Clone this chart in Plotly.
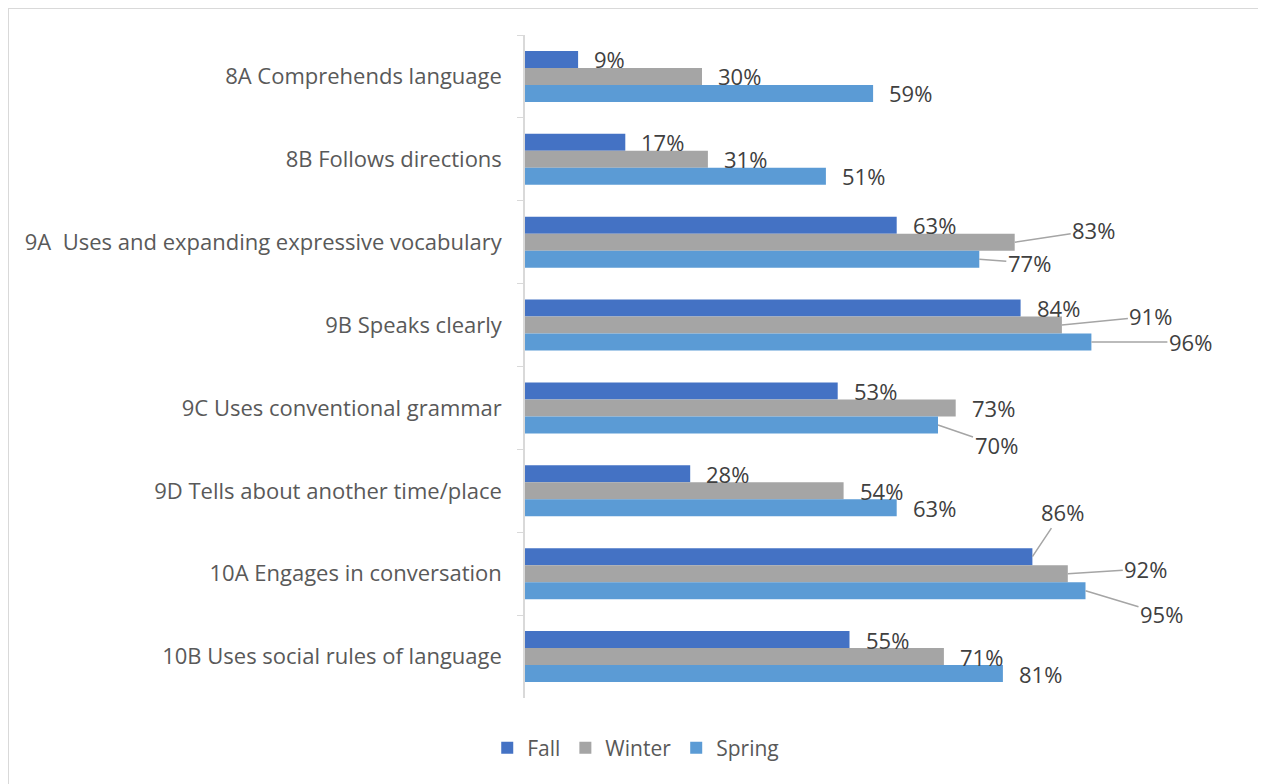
import plotly.graph_objects as go

# Dados
categorias = [
    "8A Comprehends language",
    "8B Follows directions",
    "9A\u00a0 Uses and expanding expressive vocabulary",
    "9B Speaks clearly",
    "9C Uses conventional grammar",
    "9D Tells about another time/place",
    "10A Engages in conversation",
    "10B Uses social rules of language",
]
fall = [0.09, 0.17, 0.63, 0.84, 0.53, 0.28, 0.86, 0.55]
winter = [0.30, 0.31, 0.83, 0.91, 0.73, 0.54, 0.92, 0.71]
spring = [0.59, 0.51, 0.77, 0.96, 0.70, 0.63, 0.95, 0.81]

series = [
    ("Fall", fall, "#4472C4"),
    ("Winter", winter, "#A5A5A5"),
    ("Spring", spring, "#5B9BD5"),
]

# Rótulos com linha de chamada: (série, índice) -> deslocamento do texto em px
leaders = {
    ("Winter", 2): (79, -12),
    ("Spring", 2): (50, 4),
    ("Winter", 3): (89, -9),
    ("Spring", 3): (99, 0),
    ("Spring", 4): (58, 20),
    ("Fall", 6): (30, -45),
    ("Winter", 6): (78, -5),
    ("Spring", 6): (76, 23),
}

# A página tem margem de 8px no body: figura um pouco menor
W, H = 1258, 776
M = dict(l=517, r=33, t=27, b=86)
BAR_PX = 17
FONTE = "Open Sans, Liberation Sans, Arial"
label_font = dict(family=FONTE, size=22, color="#404040")

fig = go.Figure()
for nome, valores, cor in series:
    fig.add_trace(go.Bar(
        y=categorias,
        x=valores,
        name=nome,
        orientation="h",
        marker=dict(color=cor, line=dict(width=0)),
    ))

# Rótulos de dados
annotations = []
yshift_map = {"Fall": BAR_PX, "Winter": 0, "Spring": -BAR_PX}
for nome, valores, cor in series:
    for i, v in enumerate(valores):
        texto = f"{round(v * 100)}%"
        if (nome, i) in leaders:
            ax, ay = leaders[(nome, i)]
            annotations.append(dict(
                x=v, y=categorias[i], xref="x", yref="y",
                text=texto, font=label_font,
                showarrow=True, arrowhead=0, arrowwidth=1.5,
                arrowcolor="#A5A5A5", ax=ax, ay=ay, standoff=0,
                yshift=yshift_map[nome],
            ))
        else:
            annotations.append(dict(
                x=v, y=categorias[i], xref="x", yref="y",
                text=texto, font=label_font, showarrow=False,
                xanchor="left", xshift=14, yshift=yshift_map[nome],
            ))

plot_w = W - M["l"] - M["r"]
plot_h = H - M["t"] - M["b"]

# Borda do gráfico (sem linha inferior visível)
border = dict(
    type="rect", xref="paper", yref="paper",
    x0=(0 - M["l"]) / plot_w, x1=(1256 - M["l"]) / plot_w,
    y0=(H - M["b"] - 820) / plot_h, y1=(H - M["b"]) / plot_h,
    line=dict(color="#D9D9D9", width=2),
    layer="below",
)

fig.update_layout(
    width=W,
    height=H,
    margin=M,
    barmode="group",
    bargap=0.385,
    bargroupgap=0,
    plot_bgcolor="white",
    paper_bgcolor="white",
    font=dict(family=FONTE, color="#595959"),
    xaxis=dict(
        range=[0, 1.2],
        showgrid=False,
        zeroline=False,
        showticklabels=False,
        showline=False,
    ),
    yaxis=dict(
        autorange="reversed",
        showgrid=False,
        showline=True,
        linecolor="#D9D9D9",
        linewidth=1.5,
        ticks="outside",
        tickson="boundaries",
        ticklen=6,
        tickcolor="#D9D9D9",
        tickfont=dict(family=FONTE, size=22, color="#595959"),
        ticklabelstandoff=17,
    ),
    showlegend=True,
    legend=dict(
        orientation="h",
        xref="container", yref="container",
        x=0.499, xanchor="center",
        y=(H - 740) / H, yanchor="middle",
        font=dict(family=FONTE, size=21, color="#595959"),
        traceorder="normal",
        itemwidth=30,
    ),
    annotations=annotations,
    shapes=[border],
)

fig.write_html("out.html")
